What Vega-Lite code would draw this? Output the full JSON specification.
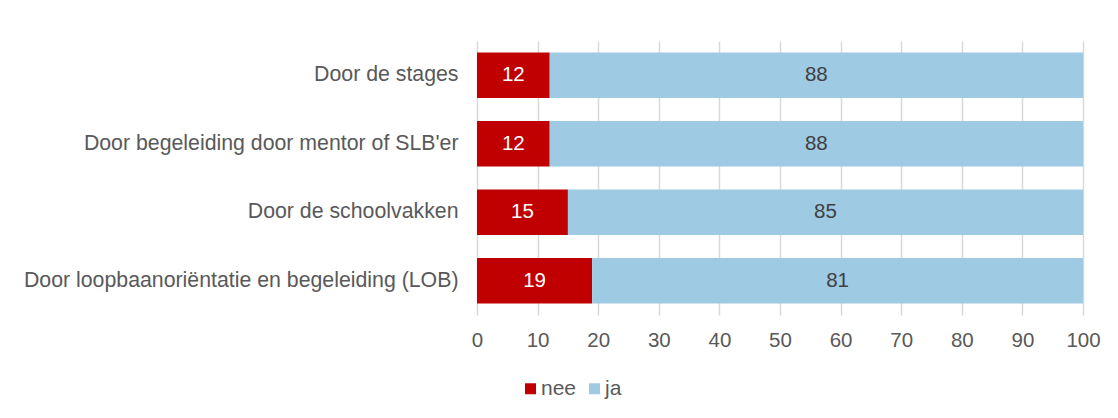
{
  "$schema": "https://vega.github.io/schema/vega-lite/v6.json",
  "autosize": {"type": "none"},
  "padding": {"left": 477, "top": 41, "right": 35, "bottom": 103},
  "width": 606,
  "height": 274,
  "background": "white",
  "config": {
    "font": "Liberation Sans",
    "view": {"stroke": null}
  },
  "data": {
    "values": [
      {"item": "Door de stages", "answer": "nee", "value": 12},
      {"item": "Door de stages", "answer": "ja", "value": 88},
      {"item": "Door begeleiding door mentor of SLB'er", "answer": "nee", "value": 12},
      {"item": "Door begeleiding door mentor of SLB'er", "answer": "ja", "value": 88},
      {"item": "Door de schoolvakken", "answer": "nee", "value": 15},
      {"item": "Door de schoolvakken", "answer": "ja", "value": 85},
      {"item": "Door loopbaanoriëntatie en begeleiding (LOB)", "answer": "nee", "value": 19},
      {"item": "Door loopbaanoriëntatie en begeleiding (LOB)", "answer": "ja", "value": 81}
    ]
  },
  "encoding": {
    "y": {
      "field": "item", "type": "nominal", "sort": null,
      "scale": {"paddingInner": 0.333, "paddingOuter": 0.167},
      "axis": {"title": null, "domain": false, "ticks": false, "labelFontSize": 21.3, "labelColor": "#595959", "labelPadding": 19, "labelLimit": 600}
    },
    "x": {
      "field": "value", "type": "quantitative", "stack": "zero",
      "scale": {"domain": [0, 100], "nice": false},
      "axis": {"title": null, "domain": false, "ticks": false, "values": [0,10,20,30,40,50,60,70,80,90,100], "grid": true, "gridColor": "#d9d9d9", "gridWidth": 1.5, "labelFontSize": 20.5, "labelColor": "#595959", "labelPadding": 15, "labelFlush": false, "labelOverlap": false}
    },
    "order": {"field": "answer", "sort": "descending"}
  },
  "layer": [
    {
      "mark": {"type": "bar"},
      "encoding": {
        "color": {
          "field": "answer", "type": "nominal",
          "scale": {"domain": ["nee", "ja"], "range": ["#C00000", "#9ECAE4"]},
          "legend": {
            "title": null, "orient": "none", "legendX": 43, "legendY": 337, "direction": "horizontal",
            "symbolType": "square", "symbolSize": 121, "symbolStrokeWidth": 0, "labelFontSize": 21, "labelColor": "#595959", "labelOffset": 0, "columnPadding": 7
          }
        }
      }
    },
    {
      "mark": {"type": "text", "fontSize": 20.5},
      "encoding": {
        "x": {"field": "value", "type": "quantitative", "stack": "zero", "bandPosition": 0.5},
        "text": {"field": "value", "type": "quantitative"},
        "color": {"condition": {"test": "datum.answer === 'nee'", "value": "white"}, "value": "#404040"}
      }
    }
  ]
}
